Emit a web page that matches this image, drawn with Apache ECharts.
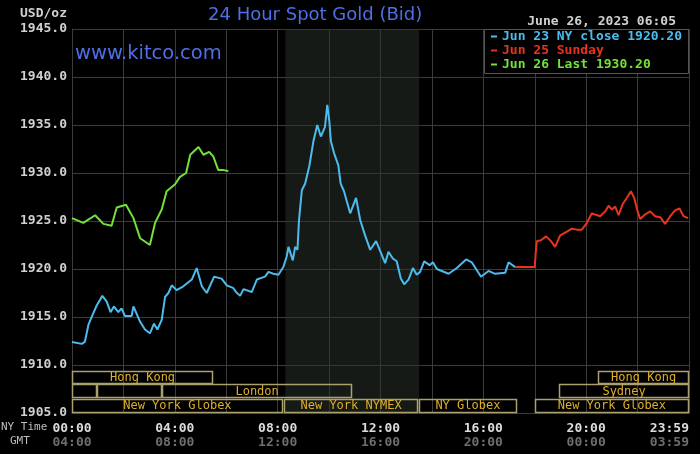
<!DOCTYPE html>
<html>
<head>
<meta charset="utf-8">
<script src="https://cdn.jsdelivr.net/npm/echarts@6/dist/echarts.min.js"></script>
<style>
  html, body { margin: 0; padding: 0; background: #000; }
  #chart { width: 700px; height: 454px; }
</style>
</head>
<body>
<div id="chart"></div>
<script>
// hours since 00:00 NY time, price in USD/oz
var blueHours = [0, 0.38, 0.5, 0.64, 0.83, 0.96, 1.18, 1.35, 1.5, 1.63, 1.8, 1.93, 2.06, 2.32, 2.39, 2.65, 2.84, 3.03, 3.19, 3.32,
    3.49, 3.62, 3.75, 3.88, 4.07, 4.33, 4.66, 4.85, 5.05, 5.24, 5.53, 5.82, 6.02, 6.28, 6.38, 6.54, 6.67, 6.99, 7.19, 7.51,
    7.64, 7.83, 8.03, 8.22, 8.35, 8.42, 8.59, 8.68, 8.77, 8.83, 8.94, 9.07, 9.23, 9.39, 9.54, 9.68, 9.84, 9.93, 10.01, 10.07,
    10.19, 10.36, 10.45, 10.58, 10.82, 11.05, 11.21, 11.4, 11.6, 11.83, 12.18, 12.31, 12.48, 12.63, 12.79, 12.92, 13.09, 13.26,
    13.41, 13.54, 13.7, 13.91, 14.04, 14.19, 14.65, 14.97, 15.33, 15.55, 15.91, 16.2, 16.46, 16.85, 16.98, 17.24];
var bluePrices = [1912.4, 1912.2, 1912.4, 1914.2, 1915.4, 1916.2, 1917.2, 1916.6, 1915.5, 1916.1, 1915.5, 1915.9, 1915.1, 1915.1, 1916.1, 1914.5, 1913.7, 1913.3, 1914.3, 1913.7,
    1914.7, 1917.1, 1917.5, 1918.3, 1917.8, 1918.2, 1918.9, 1920.1, 1918.2, 1917.5, 1919.2, 1919.0, 1918.3, 1918.0, 1917.6, 1917.2, 1917.9, 1917.6, 1918.9, 1919.2,
    1919.7, 1919.5, 1919.4, 1920.2, 1921.3, 1922.3, 1920.9, 1922.3, 1922.0, 1925.1, 1928.2, 1928.9, 1930.7, 1933.3, 1935.0, 1933.8, 1934.8, 1937.1, 1935.4, 1933.3,
    1932.1, 1930.8, 1928.9, 1928.1, 1925.8, 1927.4, 1925.1, 1923.5, 1922.0, 1922.9, 1920.6, 1921.8, 1921.1, 1920.8, 1919.0, 1918.4, 1918.9, 1920.1,
    1919.4, 1919.7, 1920.8, 1920.4, 1920.7, 1920.0, 1919.5, 1920.1, 1921.0, 1920.7, 1919.2, 1919.8, 1919.5, 1919.6, 1920.7, 1920.2];

var redHours = [17.24, 18.0, 18.04, 18.08, 18.24, 18.44, 18.63, 18.79, 18.99, 19.25, 19.44, 19.64, 19.83, 20.03, 20.22, 20.54, 20.74, 20.87, 21.0,
    21.13, 21.26, 21.43, 21.58, 21.74, 21.87, 21.97, 22.1, 22.3, 22.49, 22.68, 22.88, 23.07, 23.27, 23.46, 23.63, 23.79, 23.96];
var redPrices = [1920.2, 1920.2, 1921.8, 1922.9, 1923.0, 1923.4, 1922.9, 1922.3, 1923.5, 1923.9, 1924.2, 1924.1, 1924.1, 1924.8, 1925.8, 1925.5, 1926.0, 1926.6, 1926.2,
    1926.5, 1925.6, 1926.8, 1927.4, 1928.1, 1927.4, 1926.3, 1925.2, 1925.7, 1926.0, 1925.5, 1925.4, 1924.7, 1925.5, 1926.1, 1926.3, 1925.5, 1925.3];

var greenHours = [0, 0.44, 0.9, 1.22, 1.54, 1.74, 2.1, 2.39, 2.65, 3.03, 3.23, 3.49, 3.68, 4.0, 4.2, 4.44, 4.6, 4.92, 5.11, 5.34, 5.5, 5.69, 5.89, 6.08];
var greenPrices = [1925.3, 1924.8, 1925.6, 1924.7, 1924.5, 1926.4, 1926.7, 1925.3, 1923.2, 1922.5, 1924.8, 1926.2, 1928.1, 1928.8, 1929.6, 1930.0, 1931.9, 1932.7, 1931.9, 1932.2, 1931.7, 1930.3, 1930.3, 1930.2];

var seriesNames = ['Jun 23 NY close 1920.20', 'Jun 25 Sunday', 'Jun 26 Last 1930.20'];
var seriesColors = ['#4cbbee', '#e8341f', '#72e23a'];

// trading sessions: start hour, end hour, row (0 = top), label
var sessionStart = [0, 20.47, 0, 0.97, 3.5, 18.95, 0, 8.25, 13.5, 18.0];
var sessionEnd   = [5.49, 24, 0.97, 3.5, 10.9, 24, 8.2, 13.46, 17.3, 24];
var sessionRow   = [0, 0, 1, 1, 1, 1, 2, 2, 2, 2];
var sessionLabel = ['Hong Kong', 'Hong Kong', '', '', 'London', 'Sydney', 'New York Globex', 'New York NYMEX', 'NY Globex', 'New York Globex'];
var rowTop = [1909.4, 1908.0, 1906.5];
var rowBottom = [1908.0, 1906.5, 1905.0];

var nymexShade = [8.3, 13.5];
var nyTicks = ['00:00', '04:00', '08:00', '12:00', '16:00', '20:00', '23:59'];
var gmtTicks = ['04:00', '08:00', '12:00', '16:00', '20:00', '00:00', '03:59'];

function zip(xs, ys) {
    var out = [];
    for (var i = 0; i < xs.length; i++) out.push([xs[i], ys[i]]);
    return out;
}

var sessionData = [];
for (var i = 0; i < sessionStart.length; i++) {
    sessionData.push([sessionStart[i], sessionEnd[i], sessionRow[i], sessionLabel[i]]);
}

var mono = 'DejaVu Sans Mono';
var myChart = echarts.init(document.getElementById('chart'));

function lineSeries(idx, data) {
    return {
        name: seriesNames[idx],
        type: 'line',
        data: data,
        showSymbol: false,
        color: seriesColors[idx],
        lineStyle: { width: 2, color: seriesColors[idx] },
        itemStyle: { color: seriesColors[idx] },
        animation: false,
        z: 3
    };
}

var option = {
    backgroundColor: '#000',
    animation: false,
    grid: { left: 72, right: 11, top: 29, bottom: 41 },
    xAxis: {
        type: 'value',
        min: 0,
        max: 24,
        interval: 2,
        axisLine: { show: true, lineStyle: { color: '#3c3c3c' } },
        axisTick: { show: false },
        splitLine: { show: true, lineStyle: { color: '#3c3c3c', width: 1 } },
        axisLabel: {
            margin: 9,
            alignMaxLabel: 'right',
            formatter: function (v) {
                if (v % 4 !== 0) return '';
                var k = v / 4;
                return '{a|' + nyTicks[k] + '}\n{b|' + gmtTicks[k] + '}';
            },
            rich: {
                a: { color: '#dcdcdc', fontFamily: mono, fontSize: 13, fontWeight: 'bold', lineHeight: 14 },
                b: { color: '#6e6e6e', fontFamily: mono, fontSize: 13, fontWeight: 'bold', lineHeight: 14 }
            }
        }
    },
    yAxis: {
        type: 'value',
        min: 1905,
        max: 1945,
        interval: 5,
        axisLine: { show: true, lineStyle: { color: '#3c3c3c' } },
        axisTick: { show: false },
        splitLine: { show: true, lineStyle: { color: '#3c3c3c', width: 1 } },
        axisLabel: {
            margin: 5,
            color: '#d0d0d0',
            fontFamily: mono,
            fontSize: 13,
            fontWeight: 'bold',
            formatter: function (v) { return v.toFixed(1); }
        }
    },
    legend: {
        orient: 'vertical',
        left: 491,
        top: 30,
        padding: 0,
        itemGap: 1,
        itemWidth: 6,
        itemHeight: 2,
        icon: 'rect',
        z: 20,
        selectedMode: false,
        textStyle: { fontFamily: mono, fontSize: 13, fontWeight: 'bold', lineHeight: 13 },
        data: seriesNames.map(function (n, i) {
            return { name: n, textStyle: { color: seriesColors[i] } };
        })
    },
    graphic: [
        { type: 'rect', z: 15, shape: { x: 484.5, y: 29.5, width: 204, height: 44 },
          style: { fill: '#000', stroke: '#555', lineWidth: 1 } },
        { type: 'text', left: 208, top: 6, z: 20,
          style: { text: '24 Hour Spot Gold (Bid)', fill: '#4f6fe6', font: '18px "DejaVu Sans"' } },
        { type: 'text', left: 75, top: 44, z: 20,
          style: { text: 'www.kitco.com', fill: '#4f6fe6', font: '19.5px "DejaVu Sans"' } },
        { type: 'text', left: 20, top: 7, z: 20,
          style: { text: 'USD/oz', fill: '#d0d0d0', font: 'bold 13px "DejaVu Sans Mono"' } },
        { type: 'text', right: 24, top: 15, z: 20,
          style: { text: 'June 26, 2023 06:05', fill: '#d0d0d0', font: 'bold 13px "DejaVu Sans Mono"' } },
        { type: 'text', left: 1, top: 422, z: 20,
          style: { text: 'NY Time', fill: '#bdbdbd', font: '11px "DejaVu Sans Mono"' } },
        { type: 'text', left: 10, top: 436, z: 20,
          style: { text: 'GMT', fill: '#bdbdbd', font: '11px "DejaVu Sans Mono"' } }
    ],
    series: [
        {
            // NYMEX hours shading
            type: 'line',
            data: [],
            z: -1,
            silent: true,
            markArea: {
                silent: true,
                itemStyle: { color: 'rgba(44, 52, 44, 0.5)' },
                data: [[{ xAxis: nymexShade[0] }, { xAxis: nymexShade[1] }]]
            }
        },
        {
            type: 'custom',
            silent: true,
            z: 2,
            data: sessionData,
            encode: { x: [0, 1] },
            renderItem: function (params, api) {
                var row = api.value(2);
                var p0 = api.coord([api.value(0), rowTop[row]]);
                var p1 = api.coord([api.value(1), rowBottom[row]]);
                var label = sessionData[params.dataIndex][3];
                return {
                    type: 'group',
                    children: [
                        {
                            type: 'rect',
                            shape: { x: Math.round(p0[0]) + 0.5, y: Math.round(p0[1]) + 0.5,
                                     width: Math.round(p1[0] - p0[0]) - 1, height: Math.round(p1[1] - p0[1]) - 1 },
                            style: { fill: null, stroke: '#aaa16c', lineWidth: 1.5 }
                        },
                        {
                            type: 'text',
                            style: {
                                text: label,
                                x: (p0[0] + p1[0]) / 2,
                                y: (p0[1] + p1[1]) / 2 + 0.5,
                                align: 'center',
                                verticalAlign: 'middle',
                                fill: '#dcb02e',
                                font: '12px "DejaVu Sans Mono"'
                            }
                        }
                    ]
                };
            }
        },
        lineSeries(0, zip(blueHours, bluePrices)),
        lineSeries(1, zip(redHours, redPrices)),
        lineSeries(2, zip(greenHours, greenPrices))
    ]
};

myChart.setOption(option);
</script>
</body>
</html>
